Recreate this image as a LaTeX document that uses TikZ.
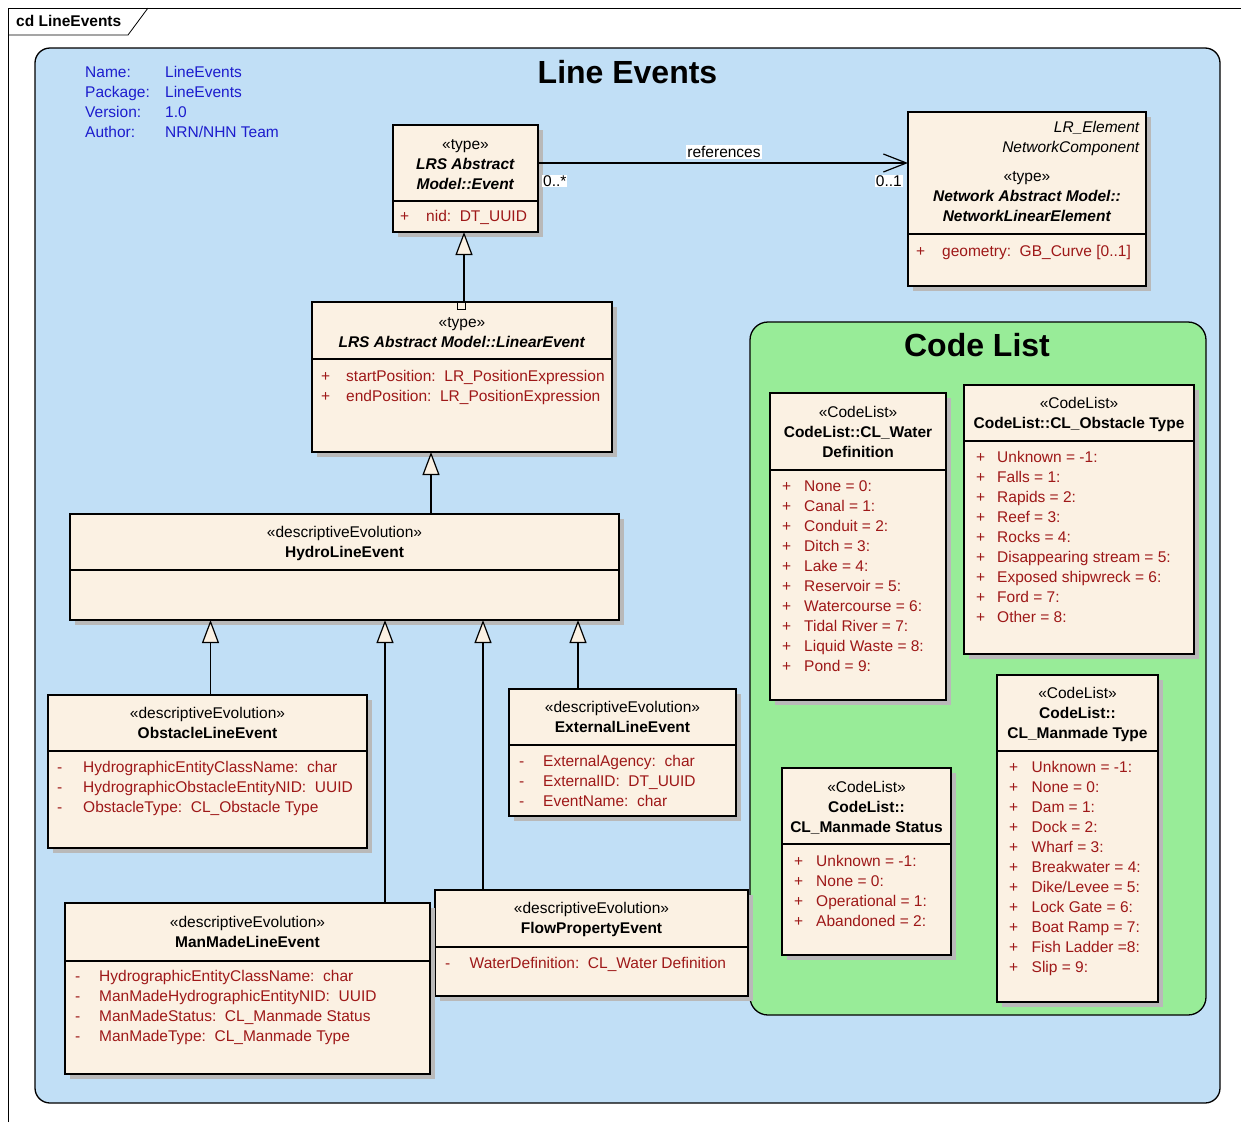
\documentclass[tikz,border=0pt]{standalone}
\usepackage{fontspec}
\setmainfont{Liberation Sans}
\usetikzlibrary{arrows.meta,shadows}
\definecolor{pkgblue}{RGB}{193,223,246}
\definecolor{pkggreen}{RGB}{152,236,152}
\definecolor{boxfill}{RGB}{251,241,227}
\definecolor{attrred}{RGB}{158,24,24}
\definecolor{infoblue}{RGB}{28,28,205}
\definecolor{shadowgrey}{RGB}{185,185,185}
\newcommand{\fs}{\fontsize{15.5}{20}\selectfont}
\newcommand{\mk}[2]{\makebox[#1][l]{#2}}
\newcommand{\st}{\rule{0pt}{14pt}}
\newcommand{\divline}[2]{\draw[line width=1.3pt] ([yshift=-#2pt]#1.north west) -- ([yshift=-#2pt]#1.north east);}
\begin{document}
\begin{tikzpicture}[x=1pt,y=-1pt, font=\fs,
  cls/.style={draw=black, line width=1.3pt, fill=boxfill, inner sep=0pt, outer sep=0pt, anchor=north west,
    general shadow={fill=shadowgrey, shadow xshift=4.5pt, shadow yshift=-4.5pt}},
  hdr/.style={anchor=north, align=center, inner sep=0pt},
  attrs/.style={anchor=north west, align=left, inner sep=0pt, text=attrred},
  gen/.style={draw=black, line width=1.2pt, -{Triangle[length=23pt,width=17pt,fill=boxfill]}},
  lbl/.style={fill=white, inner sep=1pt}]
\fill[white] (0,0) rectangle (1241,1122);
\useasboundingbox (0,0) rectangle (1241,1122);

% frame
\draw[line width=0.8pt] (8,1122) -- (8,8) -- (1241,8);
\draw[line width=0.8pt] (8,35) -- (128,35) -- (148,8);
\node[anchor=base west, font=\fs\bfseries, inner sep=0pt] (cd) at (16,26.5) {cd LineEvents};

% packages
\draw[fill=pkgblue, line width=1.3pt, rounded corners=15pt] (35,48) rectangle (1220,1103);
\draw[fill=pkggreen, line width=1.3pt, rounded corners=18pt] (750,322) rectangle (1206,1015);

\node[font=\fontsize{32}{38}\selectfont\bfseries] (title) at (627.5,72) {Line Events};
\node[font=\fontsize{32}{38}\selectfont\bfseries] (cltitle) at (977,345) {Code List};

\node[anchor=north west, align=left, inner sep=0pt, text=infoblue] (info) at (85,63)
  {\st\mk{80pt}{Name:}LineEvents\\\mk{80pt}{Package:}LineEvents\\\mk{80pt}{Version:}1.0\\\mk{80pt}{Author:}NRN/NHN Team};

% class boxes
\node[cls, minimum width=145pt, minimum height=107pt] (event) at (393,125) {};
\node[cls, minimum width=238pt, minimum height=174pt] (net) at (908,112) {};
\node[cls, minimum width=300pt, minimum height=150pt] (linear) at (312,302) {};
\node[cls, minimum width=549pt, minimum height=106pt] (hydro) at (70,514) {};
\node[cls, minimum width=319pt, minimum height=153pt] (obst) at (48,695) {};
\node[cls, minimum width=227pt, minimum height=127pt] (ext) at (509,689) {};
\node[cls, minimum width=313pt, minimum height=106pt] (flow) at (435,890) {};
\node[cls, minimum width=365pt, minimum height=171pt] (manmade) at (65,903) {};
\node[cls, minimum width=176pt, minimum height=307pt] (water) at (770,393) {};
\node[cls, minimum width=230pt, minimum height=269pt] (obstype) at (964,385) {};
\node[cls, minimum width=169pt, minimum height=187pt] (status) at (782,768) {};
\node[cls, minimum width=161pt, minimum height=327pt] (mmtype) at (997,675) {};

\divline{event}{76}
\divline{net}{122}
\divline{linear}{57}
\divline{hydro}{56}
\divline{obst}{56}
\divline{ext}{56}
\divline{flow}{57}
\divline{manmade}{58}
\divline{water}{77}
\divline{obstype}{56}
\divline{status}{76}
\divline{mmtype}{76}

% texts
\node[hdr] (eventH) at (465.5,135) {\st«type»\\\textbf{\textit{LRS Abstract}}\\\textbf{\textit{Model::Event}}};
\node[attrs] (eventA) at (400,207) {\st\mk{26pt}{+}nid:\ \ DT\_UUID};

\node[anchor=north east, align=right, inner sep=0pt] (netR) at (1140,118) {\st\textit{LR\_Element}\\\textit{NetworkComponent}};
\node[hdr] (netH) at (1027,167) {\st«type»\\\textbf{\textit{Network Abstract Model::}}\\\textbf{\textit{NetworkLinearElement}}};
\node[attrs] (netA) at (916,242) {\st\mk{26pt}{+}geometry:\ \ GB\_Curve [0..1]};

\node[hdr] (linH) at (462,313) {\st«type»\\\textbf{\textit{LRS Abstract Model::LinearEvent}}};
\node[attrs] (linA) at (321,367) {\st\mk{25pt}{+}startPosition:\ \ LR\_PositionExpression\\\mk{25pt}{+}endPosition:\ \ LR\_PositionExpression};

\node[hdr] (hydH) at (344.5,523) {\st«descriptiveEvolution»\\\textbf{HydroLineEvent}};

\node[hdr] (obsH) at (207.5,704) {\st«descriptiveEvolution»\\\textbf{ObstacleLineEvent}};
\node[attrs] (obsA) at (57,758) {\st\mk{26pt}{-}HydrographicEntityClassName:\ \ char\\\mk{26pt}{-}HydrographicObstacleEntityNID:\ \ UUID\\\mk{26pt}{-}ObstacleType:\ \ CL\_Obstacle Type};

\node[hdr] (extH) at (622.5,698) {\st«descriptiveEvolution»\\\textbf{ExternalLineEvent}};
\node[attrs] (extA) at (519,752) {\st\mk{24pt}{-}ExternalAgency:\ \ char\\\mk{24pt}{-}ExternalID:\ \ DT\_UUID\\\mk{24pt}{-}EventName:\ \ char};

\node[hdr] (flowH) at (591.5,899) {\st«descriptiveEvolution»\\\textbf{FlowPropertyEvent}};
\node[attrs] (flowA) at (445,954) {\st\mk{24.5pt}{-}WaterDefinition:\ \ CL\_Water Definition};

\node[hdr] (mmH) at (247.5,913) {\st«descriptiveEvolution»\\\textbf{ManMadeLineEvent}};
\node[attrs] (mmA) at (75,967) {\st\mk{24pt}{-}HydrographicEntityClassName:\ \ char\\\mk{24pt}{-}ManMadeHydrographicEntityNID:\ \ UUID\\\mk{24pt}{-}ManMadeStatus:\ \ CL\_Manmade Status\\\mk{24pt}{-}ManMadeType:\ \ CL\_Manmade Type};

\node[hdr] (waterH) at (858,403) {\st«CodeList»\\\textbf{CodeList::CL\_Water}\\\textbf{Definition}};
\node[attrs] (waterA) at (782,477) {\st\mk{22pt}{+}None = 0:\\\mk{22pt}{+}Canal = 1:\\\mk{22pt}{+}Conduit = 2:\\\mk{22pt}{+}Ditch = 3:\\\mk{22pt}{+}Lake = 4:\\\mk{22pt}{+}Reservoir = 5:\\\mk{22pt}{+}Watercourse = 6:\\\mk{22pt}{+}Tidal River = 7:\\\mk{22pt}{+}Liquid Waste = 8:\\\mk{22pt}{+}Pond = 9:};

\node[hdr] (otH) at (1079,394) {\st«CodeList»\\\textbf{CodeList::CL\_Obstacle Type}};
\node[attrs] (otA) at (976,448) {\st\mk{21pt}{+}Unknown = -1:\\\mk{21pt}{+}Falls = 1:\\\mk{21pt}{+}Rapids = 2:\\\mk{21pt}{+}Reef = 3:\\\mk{21pt}{+}Rocks = 4:\\\mk{21pt}{+}Disappearing stream = 5:\\\mk{21pt}{+}Exposed shipwreck = 6:\\\mk{21pt}{+}Ford = 7:\\\mk{21pt}{+}Other = 8:};

\node[hdr] (stH) at (866.5,778) {\st«CodeList»\\\textbf{CodeList::}\\\textbf{CL\_Manmade Status}};
\node[attrs] (stA) at (794,852) {\st\mk{22pt}{+}Unknown = -1:\\\mk{22pt}{+}None = 0:\\\mk{22pt}{+}Operational = 1:\\\mk{22pt}{+}Abandoned = 2:};

\node[hdr] (mtH) at (1077.5,684) {\st«CodeList»\\\textbf{CodeList::}\\\textbf{CL\_Manmade Type}};
\node[attrs] (mtA) at (1009,758) {\st\mk{22.5pt}{+}Unknown = -1:\\\mk{22.5pt}{+}None = 0:\\\mk{22.5pt}{+}Dam = 1:\\\mk{22.5pt}{+}Dock = 2:\\\mk{22.5pt}{+}Wharf = 3:\\\mk{22.5pt}{+}Breakwater = 4:\\\mk{22.5pt}{+}Dike/Levee = 5:\\\mk{22.5pt}{+}Lock Gate = 6:\\\mk{22.5pt}{+}Boat Ramp = 7:\\\mk{22.5pt}{+}Fish Ladder =8:\\\mk{22.5pt}{+}Slip = 9:};

% connectors
\coordinate (refy) at (0,163);
\draw[line width=1.2pt, -{Straight Barb[length=23pt,width=18pt,line width=1.2pt]}] (event.east |- refy) -- (net.west |- refy);
\node[lbl] (reflbl) at (724,152) {references};
\node[lbl, anchor=west] (m1) at (542,181) {0..*};
\node[lbl, anchor=east] (m2) at (903,181) {0..1};

\coordinate (g0) at (464,0);
\coordinate (g1) at (431,0);
\coordinate (g2) at (210.5,0);
\coordinate (g3) at (385,0);
\coordinate (g4) at (483,0);
\coordinate (g5) at (578,0);
\draw[gen] (g0 |- linear.north) -- (g0 |- event.south);
\draw[fill=boxfill, line width=1pt] (457,302) rectangle (465,309);
\draw[gen] (g1 |- hydro.north) -- (g1 |- linear.south);
\draw[gen] (g2 |- obst.north) -- (g2 |- hydro.south);
\draw[gen] (g3 |- manmade.north) -- (g3 |- hydro.south);
\draw[gen] (g4 |- flow.north) -- (g4 |- hydro.south);
\draw[gen] (g5 |- ext.north) -- (g5 |- hydro.south);
\end{tikzpicture}
\end{document}
